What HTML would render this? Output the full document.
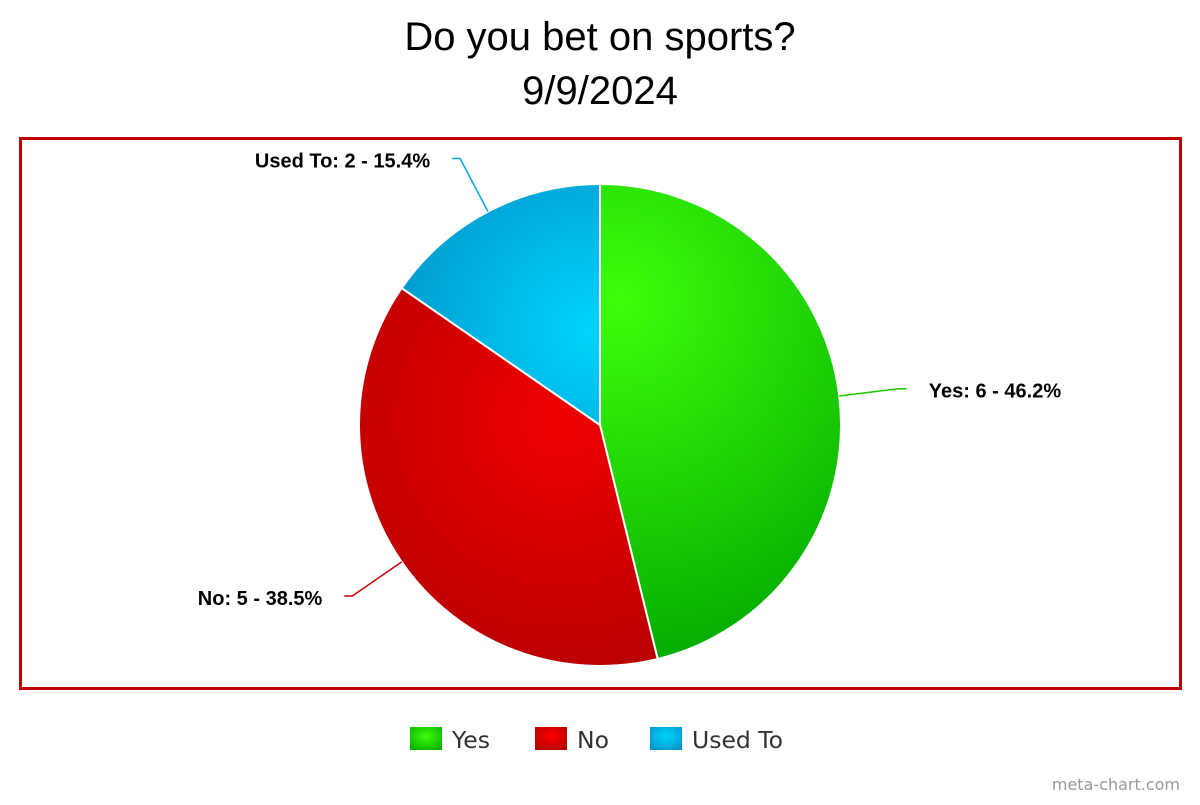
<!DOCTYPE html>
<html><head><meta charset="utf-8"><style>
body{margin:0;background:#fff;width:1200px;height:800px;overflow:hidden}
</style></head><body>
<svg id="chart" width="1200" height="800" xmlns="http://www.w3.org/2000/svg">
<defs>
<radialGradient id="g0" gradientUnits="userSpaceOnUse" cx="620" cy="300" r="380"><stop offset="0" stop-color="#3dff0a"/><stop offset="1" stop-color="#02a800"/></radialGradient>
<radialGradient id="g1" gradientUnits="userSpaceOnUse" cx="560" cy="420" r="300"><stop offset="0" stop-color="#f00000"/><stop offset="1" stop-color="#b00000"/></radialGradient>
<radialGradient id="g2" gradientUnits="userSpaceOnUse" cx="590" cy="330" r="220"><stop offset="0" stop-color="#00d4ff"/><stop offset="1" stop-color="#0095c8"/></radialGradient>
<radialGradient id="lg0" cx="0.5" cy="0.4" r="0.7"><stop offset="0" stop-color="#3dff0a"/><stop offset="1" stop-color="#05b000"/></radialGradient>
<radialGradient id="lg1" cx="0.5" cy="0.4" r="0.7"><stop offset="0" stop-color="#ff0000"/><stop offset="1" stop-color="#b00000"/></radialGradient>
<radialGradient id="lg2" cx="0.5" cy="0.4" r="0.7"><stop offset="0" stop-color="#00d4ff"/><stop offset="1" stop-color="#0095c8"/></radialGradient>
</defs>
<text x="600" y="50" text-anchor="middle" font-family="Liberation Sans, sans-serif" font-size="40">Do you bet on sports?</text>
<text x="600" y="104" text-anchor="middle" font-family="Liberation Sans, sans-serif" font-size="40">9/9/2024</text>
<rect x="20.5" y="138.5" width="1160" height="550" fill="none" stroke="#c00000" stroke-width="3"/>
<g id="slices"></g>
<g id="labels"></g>
<g id="legend"></g>
<text x="1180" y="790" text-anchor="end" font-family="DejaVu Sans, sans-serif" font-size="16" fill="#999">meta-chart.com</text>
</svg>
<script>
const categories = ["Yes","No","Used To"];
const values = [6,5,2];
const colors = ["#1ec800","#c80000","#00a8e0"];
const NS="http://www.w3.org/2000/svg";
const cx=600, cy=425, R=241;
const total=values.reduce((a,b)=>a+b,0);
const sg=document.getElementById('slices'), lg=document.getElementById('labels'), leg=document.getElementById('legend');
function pt(a,r){return [cx+r*Math.sin(a), cy-r*Math.cos(a)];}
let a0=0;
values.forEach((v,i)=>{
  const a1=a0+v/total*2*Math.PI;
  const p0=pt(a0,R), p1=pt(a1,R);
  const large=(a1-a0)>Math.PI?1:0;
  const p=document.createElementNS(NS,'path');
  p.setAttribute('d',`M${cx},${cy}L${p0[0]},${p0[1]}A${R},${R} 0 ${large} 1 ${p1[0]},${p1[1]}Z`);
  p.setAttribute('fill',`url(#g${i})`);
  p.setAttribute('stroke','#fff');p.setAttribute('stroke-width','2');
  
  
  sg.appendChild(p);
  const am=(a0+a1)/2;
  const right=Math.sin(am)>=0;
  const s=pt(am,R), k=pt(am,R+60);
  const e=[k[0]+(right?8:-8), k[1]];
  const c=pt(am,R+52);
  const l=document.createElementNS(NS,'path');
  l.setAttribute('d',`M${s[0]},${s[1]}Q${c[0]},${c[1]} ${k[0]},${k[1]}L${e[0]},${e[1]}`);
  l.setAttribute('fill','none');l.setAttribute('stroke',colors[i]);l.setAttribute('stroke-width','1.5');
  
  
  lg.appendChild(l);
  const t=document.createElementNS(NS,'text');
  t.setAttribute('x',e[0]+(right?22:-22));t.setAttribute('y',e[1]+9);
  t.setAttribute('text-anchor',right?'start':'end');
  t.setAttribute('font-family','Liberation Sans, sans-serif');t.setAttribute('font-size','20');t.setAttribute('font-weight','bold');
  t.textContent=`${categories[i]}: ${v} - ${(v/total*100).toFixed(1)}%`;
  
  
  lg.appendChild(t);
  a0=a1;
});
const legX=[410,535,650];
categories.forEach((c,i)=>{
  const g=document.createElementNS(NS,'g');
  
  
  const r=document.createElementNS(NS,'rect');
  r.setAttribute('x',legX[i]);r.setAttribute('y',727);r.setAttribute('width',32);r.setAttribute('height',23);
  r.setAttribute('fill',`url(#lg${i})`);
  const t=document.createElementNS(NS,'text');
  t.setAttribute('x',legX[i]+42);t.setAttribute('y',748);
  t.setAttribute('font-family','DejaVu Sans, sans-serif');t.setAttribute('font-size','23.5');t.setAttribute('fill','#333');
  t.textContent=c;
  g.appendChild(r);g.appendChild(t);leg.appendChild(g);
});
</script>
</body></html>
